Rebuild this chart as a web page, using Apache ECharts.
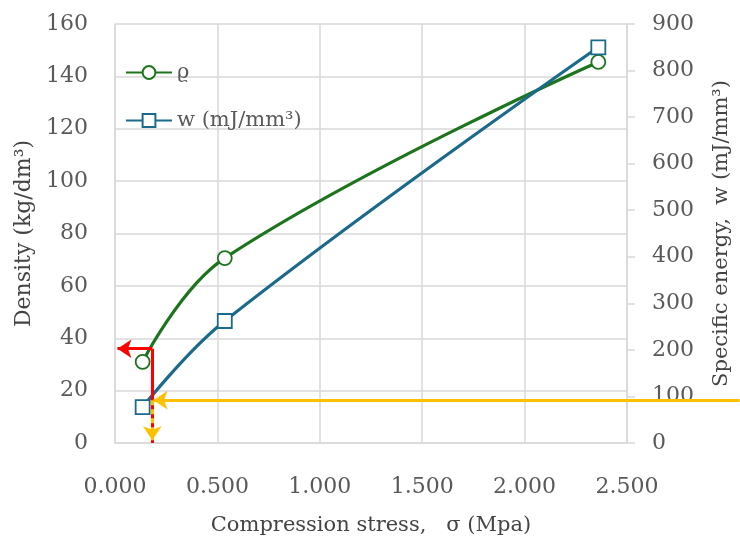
<!DOCTYPE html>
<html>
<head>
<meta charset="utf-8">
<script src="https://cdn.jsdelivr.net/npm/echarts@6/dist/echarts.min.js"></script>
<style>
  html, body { margin: 0; padding: 0; background: #fff; }
  #chart { width: 740px; height: 543px; }
</style>
</head>
<body>
<div id="chart"></div>
<script>
// measured points
const stress = [0.135, 0.536, 2.36];
const density = [31, 70.6, 145.5];
const energy = [77, 262, 850];

// reading guides (arrows)
const readStress = 0.182;
const readDensity = 36;
const readEnergy = 92;
const guideRight = 3.05;

const xTicks = ['0.000', '0.500', '1.000', '1.500', '2.000', '2.500'];

const font = 'DejaVu Serif';
const txt = '#595959';
const grid = '#d9d9d9';
const green = '#1c741c';
const blue = '#1b6a8c';

const chart = echarts.init(document.getElementById('chart'));

const arrow = (yIdx, coords, color, dashed) => ({
    type: 'lines',
    coordinateSystem: 'cartesian2d',
    yAxisIndex: yIdx,
    clip: false,
    symbol: ['none', 'arrow'],
    symbolSize: 14,
    lineStyle: { color: color, width: 3, opacity: 1, type: dashed ? [5, 4] : 'solid' },
    data: [{ coords: coords }],
    z: 5
})

chart.setOption({
    backgroundColor: '#fff',
    animation: false,
    grid: { left: 115, right: 112, top: 24, bottom: 100 },
    legend: {
        orient: 'vertical',
        left: 120,
        top: 57,
        itemWidth: 46,
        itemHeight: 16,
        itemGap: 27,
        textStyle: { fontFamily: font, fontSize: 21, color: txt },
        data: ['ϱ', 'w (mJ/mm³)']
    },
    xAxis: {
        type: 'value',
        min: 0,
        max: 2.5,
        interval: 0.5,
        name: 'Compression stress,   σ (Mpa)',
        nameLocation: 'middle',
        nameGap: 72,
        nameTextStyle: { fontFamily: font, fontSize: 21, color: '#444' },
        axisLine: { show: true, lineStyle: { color: grid, width: 1.5 } },
        axisTick: { show: false },
        axisLabel: {
            fontFamily: font, fontSize: 22, color: txt, margin: 33,
            formatter: (v) => xTicks[Math.round(v / 0.5)]
        },
        splitLine: { show: true, lineStyle: { color: grid, width: 1.5 } }
    },
    yAxis: [
        {
            type: 'value',
            min: 0,
            max: 160,
            interval: 20,
            name: 'Density (kg/dm³)',
            nameLocation: 'middle',
            nameGap: 78,
            nameTextStyle: { fontFamily: font, fontSize: 22, color: '#444' },
            axisLine: { show: true, lineStyle: { color: grid, width: 1.5 } },
            axisTick: { show: false },
            axisLabel: { fontFamily: font, fontSize: 22, color: txt, margin: 27 },
            splitLine: { show: true, lineStyle: { color: grid, width: 1.5 } }
        },
        {
            type: 'value',
            min: 0,
            max: 900,
            interval: 100,
            position: 'right',
            name: 'Specific energy,  w (mJ/mm³)',
            nameLocation: 'middle',
            nameGap: 84,
            nameRotate: 90,
            nameTextStyle: { fontFamily: font, fontSize: 21, color: '#444' },
            axisLine: { show: true, lineStyle: { color: grid, width: 1.5 } },
            axisTick: { show: true, length: 8, lineStyle: { color: grid, width: 1.5 } },
            axisLabel: { fontFamily: font, fontSize: 22, color: txt, margin: 25 },
            splitLine: { show: false }
        }
    ],
    series: [
        {
            name: 'ϱ',
            type: 'line',
            smooth: 0.4,
            yAxisIndex: 0,
            symbol: 'circle',
            symbolSize: 14,
            itemStyle: { color: '#fff', borderColor: green, borderWidth: 1.8 },
            lineStyle: { color: green, width: 3.2 },
            data: stress.map((s, i) => [s, density[i]]),
            z: 3
        },
        {
            name: 'w (mJ/mm³)',
            type: 'line',
            smooth: 0.4,
            yAxisIndex: 1,
            symbol: 'rect',
            symbolSize: 14,
            itemStyle: { color: '#fff', borderColor: blue, borderWidth: 1.8 },
            lineStyle: { color: blue, width: 3.2 },
            data: stress.map((s, i) => [s, energy[i]]),
            z: 3
        },
        {
            type: 'lines',
            coordinateSystem: 'cartesian2d',
            yAxisIndex: 0,
            clip: false,
            symbol: 'none',
            lineStyle: { color: '#ff0000', width: 3, opacity: 1 },
            data: [{ coords: [[readStress, 0], [readStress, readDensity]] }],
            z: 4
        },
        arrow(0, [[readStress, readDensity], [0.012, readDensity]], '#ff0000', false),
        arrow(1, [[guideRight, readEnergy], [readStress + 0.006, readEnergy]], '#ffc000', false),
        arrow(1, [[readStress, readEnergy], [readStress, 6]], '#ffc000', true)
    ]
});
</script>
</body>
</html>
